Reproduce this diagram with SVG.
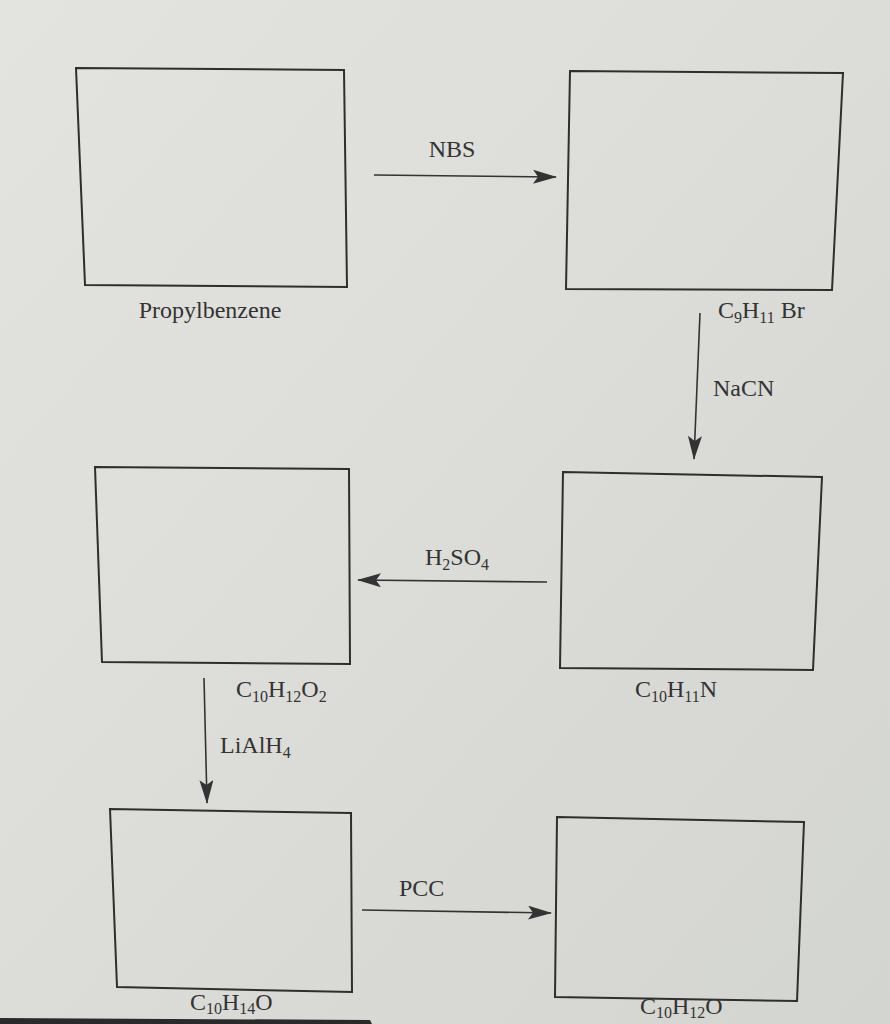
<svg xmlns="http://www.w3.org/2000/svg" width="890" height="1024" viewBox="0 0 890 1024">
<defs>
<linearGradient id="bg" x1="0" y1="0" x2="1" y2="1">
<stop offset="0" stop-color="#e3e3e0"/>
<stop offset="0.5" stop-color="#dcdcd8"/>
<stop offset="1" stop-color="#d3d5d1"/>
</linearGradient>
<marker id="ah" viewBox="0 0 24 14" refX="23" refY="7" markerWidth="24" markerHeight="14" markerUnits="userSpaceOnUse" orient="auto">
<path d="M0,0 L24,7 L0,14 L5,7 Z" fill="#333"/>
</marker>
<style>
.box{fill:none;stroke:#2e2e2e;stroke-width:2}
.lbl{font-family:"Liberation Serif","Times New Roman",serif;font-size:24px;fill:#333}
.sub{font-size:16px}
.arr{stroke:#333;stroke-width:1.6;fill:none;marker-end:url(#ah)}
</style>
</defs>
<rect width="890" height="1024" fill="url(#bg)"/>
<polygon points="0,1018 370,1020 372,1024 0,1024" fill="#2a2a2a"/>

<g id="propylbenzene">
<polygon class="box" points="76,68 344,70 347,287 85,285"/>
<text class="lbl" x="210" y="318" text-anchor="middle">Propylbenzene</text>
</g>
<g id="c9h11br">
<polygon class="box" points="570,71 843,73 832,290 566,289"/>
<text class="lbl" x="718" y="318">C<tspan class="sub" dy="5">9</tspan><tspan dy="-5">H</tspan><tspan class="sub" dy="5">11</tspan><tspan dy="-5"> Br</tspan></text>
</g>
<g id="c10h11n">
<polygon class="box" points="563,472 822,477 813,670 560,668"/>
<text class="lbl" x="635" y="697">C<tspan class="sub" dy="5">10</tspan><tspan dy="-5">H</tspan><tspan class="sub" dy="5">11</tspan><tspan dy="-5">N</tspan></text>
</g>
<g id="c10h12o2">
<polygon class="box" points="95,467 349,469 350,664 102,662"/>
<text class="lbl" x="236" y="697">C<tspan class="sub" dy="5">10</tspan><tspan dy="-5">H</tspan><tspan class="sub" dy="5">12</tspan><tspan dy="-5">O</tspan><tspan class="sub" dy="5">2</tspan></text>
</g>
<g id="c10h14o">
<polygon class="box" points="110,809 351,813 352,992 117,987"/>
<text class="lbl" x="190" y="1010">C<tspan class="sub" dy="4">10</tspan><tspan dy="-4">H</tspan><tspan class="sub" dy="4">14</tspan><tspan dy="-4">O</tspan></text>
</g>
<g id="c10h12o">
<polygon class="box" points="557,817 804,822 797,1001 555,997"/>
<text class="lbl" x="640" y="1014">C<tspan class="sub" dy="4">10</tspan><tspan dy="-4">H</tspan><tspan class="sub" dy="4">12</tspan><tspan dy="-4">O</tspan></text>
</g>

<g id="connectors">
<line class="arr" x1="374" y1="175" x2="556" y2="177"/>
<text class="lbl" x="452" y="157" text-anchor="middle">NBS</text>
<line class="arr" x1="700" y1="313" x2="694" y2="459"/>
<text class="lbl" x="713" y="396">NaCN</text>
<line class="arr" x1="547" y1="582" x2="358" y2="580"/>
<text class="lbl" x="425" y="565">H<tspan class="sub" dy="5">2</tspan><tspan dy="-5">SO</tspan><tspan class="sub" dy="5">4</tspan></text>
<line class="arr" x1="204" y1="678" x2="207" y2="803"/>
<text class="lbl" x="220" y="753">LiAlH<tspan class="sub" dy="5">4</tspan></text>
<line class="arr" x1="362" y1="910" x2="551" y2="913"/>
<text class="lbl" x="399" y="896">PCC</text>
</g>
</svg>
